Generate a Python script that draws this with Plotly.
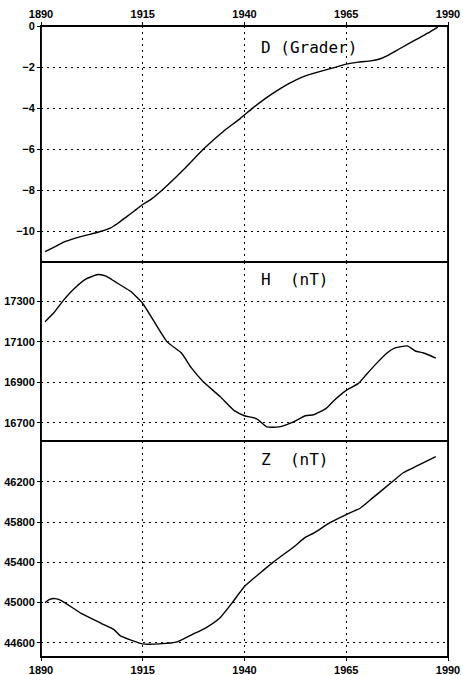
import plotly.graph_objects as go

# ---- data ----
d_years = [1891, 1893, 1896, 1900, 1904, 1907, 1909, 1911, 1913, 1915, 1917, 1920,
           1925, 1930, 1935, 1939, 1942, 1945, 1948, 1951, 1954, 1958, 1962, 1965, 1968,
           1971, 1973, 1975, 1978, 1982, 1985, 1987.5]
d_values = [-11.0, -10.8, -10.5, -10.25, -10.05, -9.85, -9.6, -9.3, -9.0, -8.7, -8.45, -7.95,
            -7.0, -5.98, -5.1, -4.5, -4.0, -3.55, -3.15, -2.8, -2.5, -2.25, -2.03, -1.86, -1.76,
            -1.7, -1.62, -1.45, -1.12, -0.68, -0.35, -0.05]

h_years = [1891, 1893, 1895.5, 1898, 1901, 1904, 1906, 1908, 1910, 1912, 1915, 1917.5,
           1921, 1924.5, 1927, 1930, 1934, 1937.5, 1940, 1943, 1945.5, 1948.5, 1952,
           1955, 1957, 1960, 1962, 1965, 1968, 1970, 1972.5, 1975, 1977, 1980, 1982,
           1984, 1987]
h_values = [17200, 17240, 17305, 17360, 17410, 17433, 17425, 17400, 17375, 17350, 17290, 17210,
            17100, 17045, 16970, 16900, 16830, 16760, 16735, 16720, 16680, 16680, 16705,
            16735, 16740, 16770, 16810, 16860, 16895, 16940, 16995, 17045, 17070, 17080, 17055,
            17045, 17020]

z_years = [1891, 1892, 1893.5, 1895, 1900, 1905, 1908, 1909.5, 1912, 1915, 1919, 1923.5,
           1927, 1930.5, 1934, 1937, 1940, 1944, 1947, 1952, 1955, 1957, 1961, 1965,
           1968.5, 1971.5, 1976, 1979, 1982.5, 1987]
z_values = [45000, 45030, 45040, 45020, 44890, 44790, 44730, 44670, 44630, 44590, 44590, 44610,
            44680, 44750, 44850, 45000, 45160, 45300, 45400, 45550, 45650, 45690, 45795, 45875,
            45940, 46040, 46190, 46290, 46360, 46450]

x_ticks = [1890, 1915, 1940, 1965, 1990]
d_ticks = [0, -2, -4, -6, -8, -10]
h_ticks = [16700, 16900, 17100, 17300]
z_ticks = [44600, 45000, 45400, 45800, 46200]

panel_titles = ["D (Grader)", "H  (nT)", "Z  (nT)"]

# ---- figure ----
fig = go.Figure()
line_style = dict(color="black", width=1.4, shape="spline", smoothing=0.5)
fig.add_trace(go.Scatter(x=d_years, y=d_values, mode="lines", line=line_style,
                         xaxis="x3", yaxis="y3", showlegend=False))
fig.add_trace(go.Scatter(x=h_years, y=h_values, mode="lines", line=line_style,
                         xaxis="x2", yaxis="y2", showlegend=False))
fig.add_trace(go.Scatter(x=z_years, y=z_values, mode="lines", line=line_style,
                         xaxis="x", yaxis="y", showlegend=False))

tick_font = dict(family="Liberation Sans Narrow, Liberation Sans, Arial", size=11,
                 color="black", weight="bold")
common = dict(showgrid=True, gridcolor="black", gridwidth=1.3, griddash="2px,4px",
              showline=True, linecolor="black", linewidth=1, mirror=True,
              zeroline=False, tickcolor="black", tickwidth=1.2, tickfont=tick_font,
              automargin=False, tickformat="d")
tick_on = dict(ticks="outside", ticklen=3)

h_bot = 0.3423
h_mid = 0.626

fig.update_layout(
    template="none",
    width=463, height=675,
    margin=dict(l=41, r=15, t=26, b=18),
    paper_bgcolor="white", plot_bgcolor="white",
    hovermode=False,
    xaxis=dict(domain=[0, 1], anchor="y", range=[1890, 1990], tickvals=x_ticks,
               side="bottom", **common, **tick_on),
    xaxis2=dict(domain=[0, 1], anchor="y2", range=[1890, 1990], tickvals=x_ticks,
                showticklabels=False, matches="x", ticks="", **common),
    xaxis3=dict(domain=[0, 1], anchor="y3", range=[1890, 1990], tickvals=x_ticks,
                side="top", matches="x", **common, **tick_on),
    yaxis=dict(domain=[0, h_bot], anchor="x", range=[44460, 46605], tickvals=z_ticks,
               **common, **tick_on),
    yaxis2=dict(domain=[h_bot, h_mid], anchor="x2", range=[16610, 17495], tickvals=h_ticks,
                **common, **tick_on),
    yaxis3=dict(domain=[h_mid, 1], anchor="x3", range=[-11.5, 0.001], tickvals=d_ticks,
                **common, **tick_on),
    shapes=[dict(type="rect", xref="paper", yref="paper", x0=0, x1=1, y0=0, y1=1,
                 line=dict(color="black", width=1.8), fillcolor="rgba(0,0,0,0)")],
)

title_font = dict(family="DejaVu Sans Mono", size=16, color="black")
for ttl, xr, yr, yv in [(panel_titles[0], "x3", "y3", -1.05),
                        (panel_titles[1], "x2", "y2", 17410),
                        (panel_titles[2], "x", "y", 46420)]:
    fig.add_annotation(text=ttl, x=1943.5, y=yv, xref=xr, yref=yr, xanchor="left",
                       yanchor="middle", showarrow=False, font=title_font)

fig.write_html("out.html", config={"displayModeBar": False},
               post_script="document.body.style.margin='0';document.body.style.padding='0';")
